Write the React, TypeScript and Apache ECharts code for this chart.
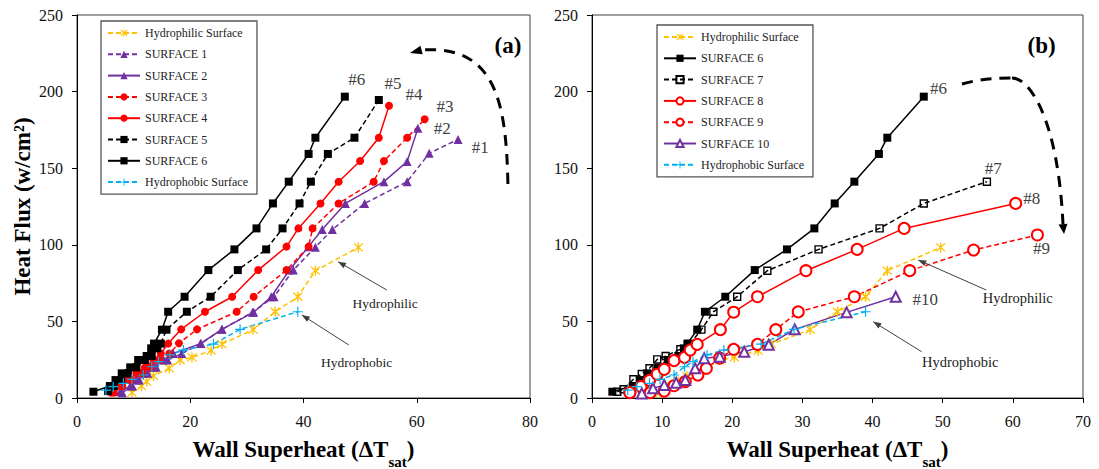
import React, { useEffect, useRef } from "react";
import * as echarts from "echarts";

const FONT = "Liberation Serif, Times New Roman, serif";

// axis ranges: [min, max, interval]
const xRangeA = [0, 80, 20];
const xRangeB = [0, 70, 10];
const yRange = [0, 250, 50];

// ---- data: [wall superheat, heat flux] ----
const hydrophilic = [
  [9.7, 3.5], [11.4, 7.8], [12.3, 10.7], [13.5, 14.4], [16.3, 19.4], [18.2, 24.8], [20.3, 26.5],
  [23.7, 30.9], [25.6, 35.2], [31.1, 44.6], [35.0, 56.3], [39.0, 66.1], [42.1, 83.1], [49.7, 98.3],
];
const hydrophobic = [
  [5.1, 5.2], [6.4, 7.4], [8.2, 9.6], [9.7, 12.2], [11.7, 15.0], [13.2, 20.4], [14.4, 23.7],
  [16.4, 28.1], [18.8, 31.3], [24.1, 35.2], [28.8, 44.8], [39.0, 56.3],
];
const surface1 = [
  [8.0, 3.5], [9.8, 7.8], [11.0, 11.7], [12.5, 16.1], [14.0, 20.0], [16.0, 24.8], [18.5, 29.0],
  [21.9, 35.5], [25.6, 44.8], [31.0, 56.0], [34.8, 66.1], [38.2, 83.5], [42.1, 98.4], [45.1, 110.0],
  [50.8, 127.0], [58.3, 141.2], [62.2, 159.7], [67.3, 168.8],
];
const surface2 = [
  [7.6, 4.1], [9.4, 7.8], [10.5, 11.7], [12.0, 16.1], [13.5, 20.0], [15.3, 24.8], [17.0, 29.0],
  [21.8, 35.5], [25.6, 44.8], [31.2, 56.0], [34.3, 66.1], [37.5, 83.5], [40.9, 98.8], [43.3, 110.0],
  [47.4, 127.0], [54.2, 141.2], [58.3, 154.3], [60.2, 176.0],
];
const surface3 = [
  [6.5, 3.5], [8.0, 7.8], [9.5, 11.7], [11.5, 16.1], [13.0, 20.0], [14.5, 24.8], [16.3, 29.0],
  [18.0, 35.7], [21.2, 44.8], [28.2, 56.3], [31.2, 66.1], [37.0, 83.5], [40.9, 98.8], [41.6, 110.7],
  [46.2, 127.0], [52.4, 141.2], [54.2, 154.7], [58.3, 169.9], [61.4, 181.9],
];
const surface4 = [
  [6.0, 3.5], [7.5, 7.8], [9.0, 11.7], [10.5, 16.1], [12.0, 20.0], [13.5, 24.8], [14.8, 29.0],
  [16.1, 35.5], [18.4, 44.8], [22.6, 56.3], [27.4, 66.1], [32.0, 83.5], [37.0, 98.8], [39.1, 110.7],
  [43.0, 127.0], [46.2, 141.2], [50.0, 154.7], [53.3, 169.9], [55.1, 190.8],
];
const surface5 = [
  [5.5, 4.5], [6.5, 7.8], [7.8, 11.7], [9.0, 16.1], [10.5, 20.0], [12.0, 24.8], [13.2, 27.4],
  [14.2, 32.4], [14.8, 35.5], [15.8, 44.6], [19.4, 56.3], [23.6, 66.1], [28.4, 83.5], [33.4, 97.0],
  [36.3, 110.7], [39.3, 127.0], [41.3, 141.2], [44.3, 159.3], [49.0, 169.9], [53.3, 194.5],
];
const surface6 = [
  [2.9, 4.1], [5.8, 7.8], [6.8, 11.7], [7.9, 16.1], [9.4, 20.0], [10.8, 24.8], [12.3, 27.4],
  [13.1, 32.4], [13.6, 35.5], [15.0, 44.6], [16.1, 56.3], [19.0, 66.1], [23.2, 83.5], [27.8, 97.0],
  [31.7, 110.7], [34.6, 127.0], [37.4, 141.2], [40.9, 159.3], [42.1, 169.9], [47.3, 196.7],
];
const surface7 = [
  [3.6, 4.1], [4.5, 5.7], [5.9, 12.2], [7.1, 15.7], [8.2, 19.4], [9.3, 25.2], [10.5, 27.4],
  [12.6, 31.8], [13.9, 35.2], [15.6, 44.6], [17.3, 56.3], [20.7, 66.1], [25.0, 83.1], [32.3, 97.0],
  [41.0, 110.7], [47.3, 127.0], [56.3, 141.2],
];
const surface8 = [
  [5.4, 3.9], [7.0, 7.5], [8.2, 11.5], [9.3, 15.5], [10.3, 18.7], [11.7, 24.4], [13.2, 26.5],
  [14.0, 31.3], [15.0, 35.0], [18.3, 44.6], [20.2, 56.0], [23.6, 66.1], [30.5, 83.1], [37.8, 97.0],
  [44.5, 110.7], [60.4, 127.0],
];
const surface9 = [
  [5.4, 3.5], [8.3, 3.5], [10.3, 4.5], [11.7, 8.0], [13.3, 10.7], [15.1, 15.0], [16.3, 19.4],
  [18.2, 26.0], [20.2, 31.8], [23.6, 35.0], [26.2, 44.6], [29.4, 56.2], [37.4, 66.1], [45.3, 83.1],
  [54.4, 96.6], [63.5, 106.4],
];
const surface10 = [
  [7.1, 3.0], [8.7, 6.3], [10.3, 8.5], [12.0, 10.0], [13.3, 11.7], [14.7, 19.4], [16.0, 25.9],
  [18.2, 27.0], [21.7, 30.2], [25.2, 34.8], [28.9, 44.8], [36.3, 55.9], [43.3, 66.1],
];

const legendA = [
  "Hydrophilic Surface", "SURFACE 1", "SURFACE 2", "SURFACE 3", "SURFACE 4", "SURFACE 5",
  "SURFACE 6", "Hydrophobic Surface",
];
const legendB = [
  "Hydrophilic Surface", "SURFACE 6", "SURFACE 7", "SURFACE 8", "SURFACE 9", "SURFACE 10",
  "Hydrophobic Surface",
];
const seriesA: [string, number[][]][] = [
  ["Hydrophilic Surface", hydrophilic], ["SURFACE 1", surface1], ["SURFACE 2", surface2],
  ["SURFACE 3", surface3], ["SURFACE 4", surface4], ["SURFACE 5", surface5],
  ["SURFACE 6", surface6], ["Hydrophobic Surface", hydrophobic],
];
const seriesB: [string, number[][]][] = [
  ["Hydrophilic Surface", hydrophilic], ["SURFACE 6", surface6], ["SURFACE 7", surface7],
  ["SURFACE 8", surface8], ["SURFACE 9", surface9], ["SURFACE 10", surface10],
  ["Hydrophobic Surface", hydrophobic],
];

// annotation labels [text, x, y]
const labelsA: [string, number, number][] = [
  ["#6", 49.4, 207.6], ["#5", 55.8, 205.6], ["#4", 59.5, 197.8], ["#3", 65.0, 190.6],
  ["#2", 64.5, 176.2], ["#1", 71.2, 163.8],
];
const labelsB: [string, number, number][] = [
  ["#6", 49.4, 202.2], ["#7", 57.2, 150.0], ["#8", 62.7, 130.3], ["#9", 64.1, 97.9], ["#10", 47.5, 64.0],
];

const ASTERISK =
  "path://M4.4,0 L5.6,0 L5.6,10 L4.4,10 Z M0.6,1.4 L1.4,0.6 L9.4,8.6 L8.6,9.4 Z M8.6,0.6 L9.4,1.4 L1.4,9.4 L0.6,8.6 Z";
const PLUS =
  "path://M4.4,0 L5.6,0 L5.6,4.4 L10,4.4 L10,5.6 L5.6,5.6 L5.6,10 L4.4,10 L4.4,5.6 L0,5.6 L0,4.4 L4.4,4.4 Z";

const PURPLE = "#7030A0";
const RED = "#FF0000";
const BLACK = "#000000";
const ORANGE = "#FFC000";
const CYAN = "#00B0F0";

type Sty = { color: string; dashed: boolean; symbol: string; size: number; hollow?: boolean };
const styles: Record<string, Sty> = {
  "Hydrophilic Surface": { color: ORANGE, dashed: true, symbol: ASTERISK, size: 10 },
  "SURFACE 1": { color: PURPLE, dashed: true, symbol: "triangle", size: 9 },
  "SURFACE 2": { color: PURPLE, dashed: false, symbol: "triangle", size: 9 },
  "SURFACE 3": { color: RED, dashed: true, symbol: "circle", size: 8 },
  "SURFACE 4": { color: RED, dashed: false, symbol: "circle", size: 8 },
  "SURFACE 5": { color: BLACK, dashed: true, symbol: "rect", size: 8 },
  "SURFACE 6": { color: BLACK, dashed: false, symbol: "rect", size: 8 },
  "SURFACE 7": { color: BLACK, dashed: true, symbol: "rect", size: 7, hollow: true },
  "SURFACE 8": { color: RED, dashed: false, symbol: "emptyCircle", size: 11 },
  "SURFACE 9": { color: RED, dashed: true, symbol: "emptyCircle", size: 11 },
  "SURFACE 10": { color: PURPLE, dashed: false, symbol: "emptyTriangle", size: 10 },
  "Hydrophobic Surface": { color: CYAN, dashed: true, symbol: PLUS, size: 10 },
};

function mkSeries(name: string, data: number[][], idx: number) {
  const s = styles[name];
  const empty = s.symbol.startsWith("empty");
  return {
    type: "line",
    name,
    xAxisIndex: idx,
    yAxisIndex: idx,
    data,
    symbol: s.symbol,
    symbolSize: s.size,
    showSymbol: true,
    lineStyle: { color: s.color, width: 1.5, type: s.dashed ? [5, 3] : "solid" },
    itemStyle: s.hollow
      ? { color: "rgba(255,255,255,0)", borderColor: s.color, borderWidth: 1.4 }
      : { color: s.color, borderWidth: empty ? 1.4 : 0 },
    emphasis: { disabled: true },
  };
}

function xAxis(idx: number, r: number[]) {
  return {
    type: "value",
    gridIndex: idx,
    min: r[0],
    max: r[1],
    interval: r[2],
    name: "{a|Wall Superheat (ΔT}{b|sat}{a|)}",
    nameLocation: "middle",
    nameGap: 40,
    nameTextStyle: {
      rich: {
        a: { fontFamily: FONT, fontSize: 23, fontWeight: "bold", color: "#000", lineHeight: 26, verticalAlign: "top" },
        b: { fontFamily: FONT, fontSize: 15, fontWeight: "bold", color: "#000", lineHeight: 31, verticalAlign: "bottom" },
      },
    },
    axisLine: { show: true, lineStyle: { color: "#000", width: 1 } },
    axisTick: { show: true, length: 5, lineStyle: { color: "#000" } },
    axisLabel: { fontFamily: FONT, fontSize: 16, color: "#111", margin: 15 },
    splitLine: { show: false },
  };
}

function yAxis(idx: number, withName: boolean) {
  return {
    type: "value",
    gridIndex: idx,
    min: yRange[0],
    max: yRange[1],
    interval: yRange[2],
    name: withName ? "Heat Flux (w/cm²)" : "",
    nameLocation: "middle",
    nameRotate: 90,
    nameGap: 43,
    nameTextStyle: { fontFamily: FONT, fontSize: 23, fontWeight: "bold", color: "#000" },
    axisLine: { show: true, lineStyle: { color: "#000", width: 1 } },
    axisTick: { show: true, length: 5, lineStyle: { color: "#000" } },
    axisLabel: { fontFamily: FONT, fontSize: 16, color: "#111", margin: 14 },
    splitLine: { show: false },
  };
}

function legend(data: string[], left: number, top: number) {
  return {
    orient: "vertical",
    left,
    top,
    data,
    itemWidth: 32,
    itemHeight: 9,
    itemGap: 9.3,
    padding: [6, 9, 6, 6],
    borderColor: "#555",
    borderWidth: 1.3,
    backgroundColor: "#fff",
    selectedMode: false,
    textStyle: { fontFamily: FONT, fontSize: 12, color: "#222", lineHeight: 12 },
  };
}

function arrowHead(tip: number[], from: number[], len: number, half: number) {
  const dx = tip[0] - from[0];
  const dy = tip[1] - from[1];
  const d = Math.hypot(dx, dy) || 1;
  const ux = dx / d;
  const uy = dy / d;
  const bx = tip[0] - ux * len;
  const by = tip[1] - uy * len;
  return [
    [tip[0], tip[1]],
    [bx - uy * half, by + ux * half],
    [bx + uy * half, by - ux * half],
  ];
}

export default function App() {
  const ref = useRef<HTMLDivElement>(null);
  useEffect(() => {
    const chart = echarts.init(ref.current!, null, { renderer: "svg" });
    const gridBase = {
      show: true,
      borderColor: "#404040",
      borderWidth: 1,
      containLabel: false,
      outerBoundsMode: "none",
    };
    const option: any = {
      animation: false,
      backgroundColor: "#fff",
      grid: [
        { ...gridBase, left: 77, top: 15, width: 453, height: 383 },
        { ...gridBase, left: 592, top: 15, width: 491, height: 383 },
      ],
      xAxis: [xAxis(0, xRangeA), xAxis(1, xRangeB)],
      yAxis: [yAxis(0, true), yAxis(1, false)],
      legend: [legend(legendA, 101, 21), legend(legendB, 657, 25)],
      series: [
        ...seriesA.map(([n, d]) => mkSeries(n, d, 0)),
        ...seriesB.map(([n, d]) => mkSeries(n, d, 1)),
      ],
    };
    chart.setOption(option);

    const P = (g: number, x: number, y: number) =>
      chart.convertToPixel({ gridIndex: g } as any, [x, y]) as number[];

    const els: any[] = [];
    const text = (g: number, t: string, x: number, y: number, size: number, bold = false, color = "#404040") => {
      const p = P(g, x, y);
      els.push({
        type: "text",
        x: p[0],
        y: p[1],
        z: 10,
        style: {
          text: t,
          fill: color,
          fontFamily: FONT,
          fontSize: size,
          fontWeight: bold ? "bold" : "normal",
          align: "center",
          verticalAlign: "middle",
          textAlign: "center",
          textVerticalAlign: "middle",
        },
      });
    };
    const callout = (g: number, from: number[], to: number[]) => {
      const a = P(g, from[0], from[1]);
      const b = P(g, to[0], to[1]);
      els.push({
        type: "line",
        z: 10,
        shape: { x1: a[0], y1: a[1], x2: b[0], y2: b[1] },
        style: { stroke: "#404040", lineWidth: 1 },
      });
      els.push({
        type: "polygon",
        z: 10,
        shape: { points: arrowHead(b, a, 8, 3) },
        style: { fill: "#404040" },
      });
    };
    // segs: list of cubic segments, each [p0, cp1, cp2, p1] in data coords
    const bigArrow = (g: number, segs: number[][][], tip: number[], len: number, half: number) => {
      let last: number[] = [0, 0];
      segs.forEach((seg) => {
        const q = seg.map((p) => P(g, p[0], p[1]));
        els.push({
          type: "bezierCurve",
          z: 10,
          shape: {
            x1: q[0][0], y1: q[0][1],
            cpx1: q[1][0], cpy1: q[1][1],
            cpx2: q[2][0], cpy2: q[2][1],
            x2: q[3][0], y2: q[3][1],
          },
          style: { stroke: "#000", lineWidth: 3, lineDash: [11, 8], fill: null },
        });
        last = q[3];
      });
      const t = P(g, tip[0], tip[1]);
      els.push({
        type: "polygon",
        z: 10,
        shape: { points: arrowHead(t, last, len, half) },
        style: { fill: "#000" },
      });
    };

    labelsA.forEach(([t, x, y]) => text(0, t, x, y, 17));
    labelsB.forEach(([t, x, y]) => text(1, t, x, y, 17));
    text(0, "(a)", 76.1, 230.4, 23, true, "#000");
    text(1, "(b)", 64.1, 230.4, 23, true, "#000");

    text(0, "Hydrophilic", 54.4, 62.0, 13.5, false, "#222");
    callout(0, [54.7, 70.5], [46.1, 89.0]);
    text(0, "Hydrophobic", 49.4, 23.4, 13.5, false, "#222");
    callout(0, [48.0, 34.6], [39.7, 54.2]);

    text(1, "Hydrophilic", 60.7, 65.3, 14.5, false, "#222");
    callout(1, [56.2, 70.5], [46.5, 90.1]);
    text(1, "Hydrophobic", 52.5, 23.5, 14.5, false, "#222");
    callout(1, [47.0, 30.2], [40.1, 49.8]);

    bigArrow(0, [[[76.1, 139.7], [75.8, 194.5], [73.8, 230.4], [60.9, 227.2]]], [58.8, 225.2], 12, 4.5);
    bigArrow(
      1,
      [
        [[52.75, 205.0], [55.32, 208.2], [57.46, 208.9], [59.88, 208.9]],
        [[59.88, 208.9], [62.45, 208.9], [66.44, 181.5], [67.15, 113.6]],
      ],
      [67.3, 107.0],
      10,
      4.5
    );

    chart.setOption({ graphic: { elements: els } });
    return () => chart.dispose();
  }, []);
  return (
    <div
      ref={ref}
      style={{ position: "fixed", left: 0, top: 0, width: 1099, height: 469, background: "#fff" }}
    />
  );
}
